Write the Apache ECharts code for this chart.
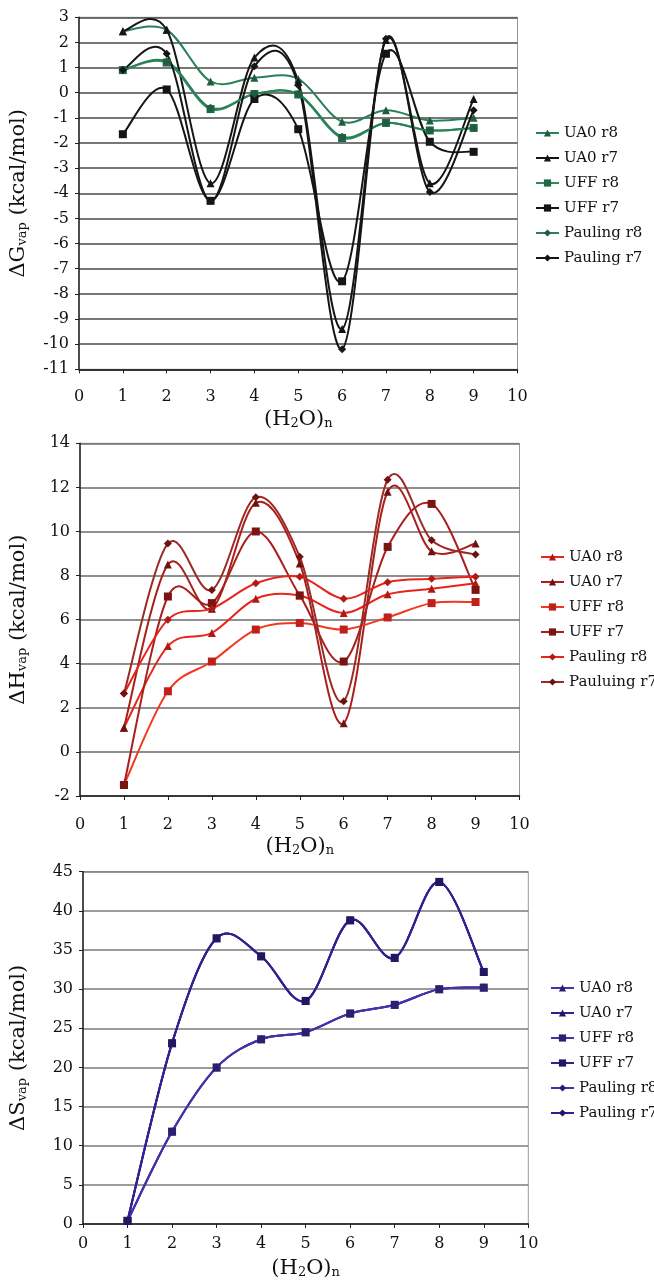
<!DOCTYPE html>
<html>
<head>
<meta charset="utf-8">
<script src="https://cdn.jsdelivr.net/npm/echarts@6/dist/echarts.min.js"></script>
<style>
html, body { margin: 0; padding: 0; background: #fff; }
#main { width: 654px; height: 1283px; }
</style>
</head>
<body>
<div id="main"></div>
<script>
// cluster size n of (H2O)n
var clusterN = [1, 2, 3, 4, 5, 6, 7, 8, 9];
var xTicks = [0, 10, 1];

// dG vap
var gUA0r8 = [2.45, 2.5, 0.45, 0.6, 0.55, -1.15, -0.7, -1.1, -1.0];
var gUA0r7 = [2.45, 2.5, -3.6, 1.4, 0.45, -9.4, 2.1, -3.6, -0.25];
var gUFFr8 = [0.9, 1.2, -0.65, -0.05, -0.07, -1.8, -1.2, -1.5, -1.4];
var gUFFr7 = [-1.65, 0.13, -4.3, -0.25, -1.45, -7.5, 1.55, -1.95, -2.35];
var gPaulr8 = [0.9, 1.25, -0.6, -0.05, -0.05, -1.75, -1.2, -1.5, -1.4];
var gPaulr7 = [0.9, 1.55, -4.3, 1.05, 0.3, -10.2, 2.15, -3.95, -0.7];

// dH vap
var hUA0r8 = [1.1, 4.8, 5.4, 6.95, 7.1, 6.3, 7.15, 7.4, 7.65];
var hUA0r7 = [1.1, 8.5, 6.5, 11.3, 8.55, 1.3, 11.8, 9.1, 9.45];
var hUFFr8 = [-1.5, 2.75, 4.1, 5.55, 5.85, 5.55, 6.1, 6.75, 6.8];
var hUFFr7 = [-1.5, 7.05, 6.75, 10.0, 7.1, 4.1, 9.3, 11.25, 7.35];
var hPaulr8 = [2.65, 6.0, 6.5, 7.65, 7.95, 6.95, 7.7, 7.85, 7.95];
var hPaulr7 = [2.65, 9.45, 7.35, 11.55, 8.85, 2.3, 12.35, 9.6, 8.95];

// dS vap
var sUA0r8 = [0.4, 11.8, 20.0, 23.6, 24.5, 26.9, 28.0, 30.0, 30.2];
var sUA0r7 = [0.4, 23.1, 36.5, 34.2, 28.5, 38.8, 34.0, 43.7, 32.2];
var sUFFr8 = [0.4, 11.8, 20.0, 23.6, 24.5, 26.9, 28.0, 30.0, 30.2];
var sUFFr7 = [0.4, 23.1, 36.5, 34.2, 28.5, 38.8, 34.0, 43.7, 32.2];
var sPaulr8 = [0.4, 11.8, 20.0, 23.6, 24.5, 26.9, 28.0, 30.0, 30.2];
var sPaulr7 = [0.4, 23.1, 36.5, 34.2, 28.5, 38.8, 34.0, 43.7, 32.2];

// y ranges [min, max, interval]
var gTicks = [-11, 3, 1];
var hTicks = [-2, 14, 2];
var sTicks = [0, 45, 5];

var namesG = ['UA0 r8', 'UA0 r7', 'UFF r8', 'UFF r7', 'Pauling r8', 'Pauling r7'];
var namesH = ['UA0 r8 ', 'UA0 r7 ', 'UFF r8 ', 'UFF r7 ', 'Pauling r8 ', 'Pauluing r7 '];
var namesS = ['UA0 r8  ', 'UA0 r7  ', 'UFF r8  ', 'UFF r7  ', 'Pauling r8  ', 'Pauling r7  '];

var font = 'DejaVu Serif';
var titleRich = {
    b: { fontFamily: font, fontSize: 21, lineHeight: 25, verticalAlign: 'bottom', color: '#111' },
    s: { fontFamily: font, fontSize: 13, lineHeight: 10, verticalAlign: 'bottom', color: '#111' }
};

function xAxisFor(i, labelMargin, gap) {
    return {
        gridIndex: i, type: 'value', min: xTicks[0], max: xTicks[1], interval: xTicks[2],
        axisLine: { show: true, onZero: false, lineStyle: { color: '#222', width: 1.5 } },
        axisTick: { show: true, length: 4, lineStyle: { color: '#222' } },
        axisLabel: { margin: labelMargin, fontFamily: font, fontSize: 16, color: '#111' },
        splitLine: { show: false },
        name: '{b|(H}{s|2}{b|O)}{s|n}', nameLocation: 'middle', nameGap: gap,
        nameTextStyle: { rich: titleRich }
    };
}

function yAxisFor(i, ticks, title, gap, gridColor) {
    return {
        gridIndex: i, type: 'value', min: ticks[0], max: ticks[1], interval: ticks[2],
        axisLine: { show: true, lineStyle: { color: '#222', width: 1.5 } },
        axisTick: { show: true, length: 4, lineStyle: { color: '#222' } },
        axisLabel: { margin: 10, fontFamily: font, fontSize: 16, color: '#111' },
        splitLine: { show: true, lineStyle: { color: gridColor, width: 1.6 } },
        name: title, nameLocation: 'middle', nameRotate: 90, nameGap: gap,
        nameTextStyle: { rich: titleRich }
    };
}

// markers + legend entry (the line itself is drawn by curve() below)
function marks(name, i, vals, color, markColor, symbol) {
    return {
        name: name, type: 'line', xAxisIndex: i, yAxisIndex: i, z: 3,
        data: clusterN.map(function (n, k) { return [n, vals[k]]; }),
        symbol: symbol, symbolSize: 8,
        lineStyle: { color: color, width: 2, opacity: 0 },
        itemStyle: { color: markColor },
        emphasis: { disabled: true }
    };
}

// smooth curve like the spreadsheet one (catmull-rom through the points)
function curve(i, vals, color) {
    return {
        type: 'custom', xAxisIndex: i, yAxisIndex: i, z: 2, silent: true,
        data: clusterN.map(function (n, k) { return [n, vals[k]]; }),
        renderItem: function (params, api) {
            var k = params.dataIndex;
            var last = clusterN.length - 1;
            if (k >= last) return;
            var p = function (j) {
                j = Math.max(0, Math.min(last, j));
                return api.coord([clusterN[j], vals[j]]);
            };
            var p0 = p(k - 1), p1 = p(k), p2 = p(k + 1), p3 = p(k + 2);
            return {
                type: 'bezierCurve',
                shape: {
                    x1: p1[0], y1: p1[1], x2: p2[0], y2: p2[1],
                    cpx1: p1[0] + (p2[0] - p0[0]) / 6, cpy1: p1[1] + (p2[1] - p0[1]) / 6,
                    cpx2: p2[0] - (p3[0] - p1[0]) / 6, cpy2: p2[1] - (p3[1] - p1[1]) / 6
                },
                style: { fill: 'none', stroke: color, lineWidth: 2 }
            };
        }
    };
}

function legendFor(names, left, top) {
    return {
        data: names, orient: 'vertical', left: left, top: top, padding: 0,
        itemWidth: 23, itemHeight: 9, itemGap: 7, selectedMode: false,
        lineStyle: { opacity: 1, width: 2 },
        textStyle: { fontFamily: font, fontSize: 15, color: '#111', lineHeight: 18 },
        formatter: function (n) { return n.trim(); }
    };
}

var green = '#2a8058', green2 = '#2f8a5e', black = '#151515';
var red = '#e8241c', red2 = '#f2381f', dred = '#a81f1c', dred2 = '#9c2a24';
var purple = '#4333a8', dpurple = '#2f2190';

var groups = [
    [0, namesG, [gUA0r8, gUA0r7, gUFFr8, gUFFr7, gPaulr8, gPaulr7],
        [green, black, green2, black, green, black],
        ['#1f5c40', black, '#1f6845', black, '#1f5c40', black]],
    [1, namesH, [hUA0r8, hUA0r7, hUFFr8, hUFFr7, hPaulr8, hPaulr7],
        [red, dred, red2, dred, red, dred2],
        ['#b01a14', '#6e1210', '#c0201a', '#7a1412', '#b01a14', '#6e1210']],
    [2, namesS, [sUA0r8, sUA0r7, sUFFr8, sUFFr7, sPaulr8, sPaulr7],
        [purple, dpurple, purple, dpurple, purple, dpurple],
        ['#2a2070', '#221760', '#2a2070', '#221760', '#2a2070', '#221760']]
];
var symbols = ['triangle', 'triangle', 'rect', 'rect', 'diamond', 'diamond'];

var series = [];
groups.forEach(function (g) {
    for (var s = 0; s < 6; s++) {
        series.push(curve(g[0], g[2][s], g[3][s]));
    }
    for (var s2 = 0; s2 < 6; s2++) {
        series.push(marks(g[1][s2], g[0], g[2][s2], g[3][s2], g[4][s2], symbols[s2]));
    }
});

var myChart = echarts.init(document.getElementById('main'));
var option = {
    backgroundColor: '#fff',
    animation: false,
    grid: [
        { left: 72.5, width: 445, top: 17.3, height: 352, show: true, borderColor: '#999', borderWidth: 1 },
        { left: 76, width: 443.5, top: 443.3, height: 352.7, show: true, borderColor: '#999', borderWidth: 1 },
        { left: 78.3, width: 450, top: 871.7, height: 352.3, show: true, borderColor: '#999', borderWidth: 1 }
    ],
    xAxis: [xAxisFor(0, 20, 36), xAxisFor(1, 21, 36), xAxisFor(2, 12, 30)],
    yAxis: [
        yAxisFor(0, gTicks, '{b|ΔG}{s|vap}{b| (kcal/mol)}', 50, '#4a4a4a'),
        yAxisFor(1, hTicks, '{b|ΔH}{s|vap}{b| (kcal/mol)}', 51, '#6a6a6a'),
        yAxisFor(2, sTicks, '{b|ΔS}{s|vap}{b| (kcal/mol)}', 54, '#7a7a7a')
    ],
    legend: [
        legendFor(namesG, 535, 124),
        legendFor(namesH, 540, 548),
        legendFor(namesS, 550, 979)
    ],
    series: series
};
myChart.setOption(option);
</script>
</body>
</html>
